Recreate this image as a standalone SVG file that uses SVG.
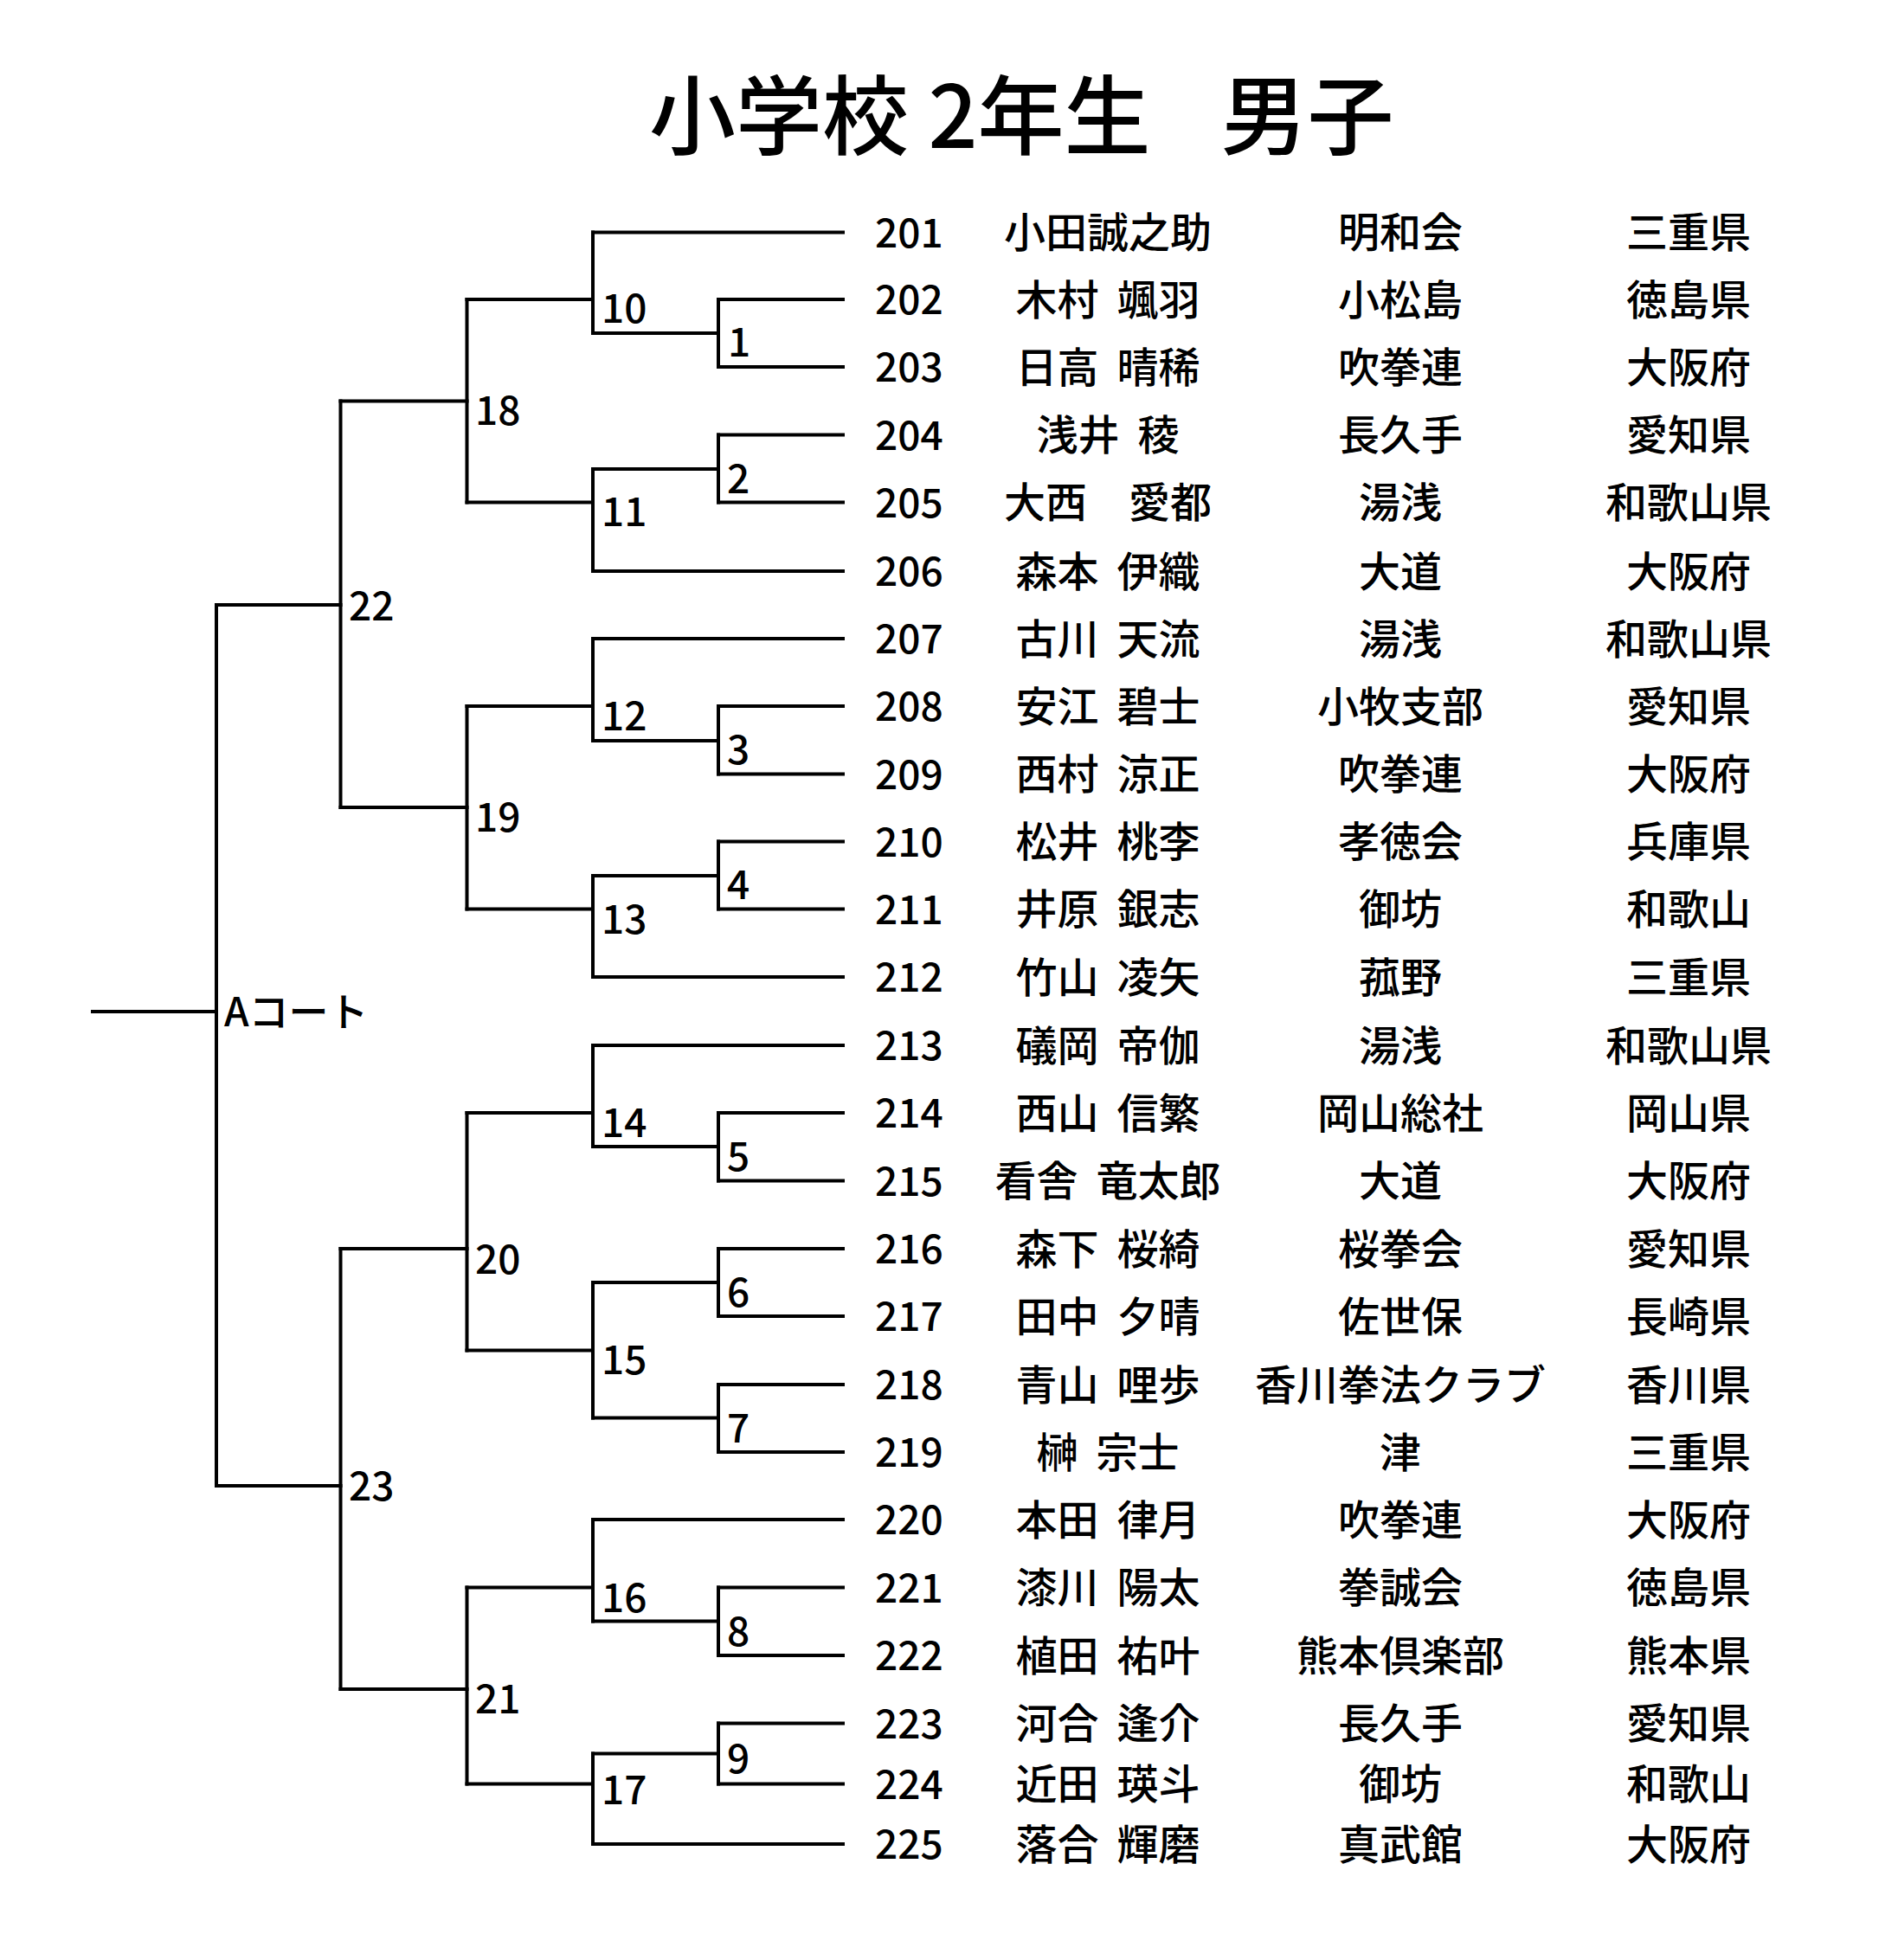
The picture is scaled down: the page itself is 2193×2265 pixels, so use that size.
<svg xmlns="http://www.w3.org/2000/svg" width="2193" height="2265" viewBox="0 0 2193 2265">
<style>
.ln{stroke:#000;stroke-width:4;stroke-linecap:square;fill:none}
.t{font-family:"Noto Sans CJK JP","Noto Sans CJK SC",sans-serif;font-size:46px;font-weight:500;fill:#000}
.j{font-size:48px}
.c{text-anchor:middle}
.nm{word-spacing:10px}
.ttl{font-family:"Noto Sans CJK JP","Noto Sans CJK SC",sans-serif;font-size:100px;font-weight:500;fill:#000}
</style>
<rect width="2193" height="2265" fill="#fff"/>
<text class="ttl" x="750" y="171" xml:space="preserve">小学校 2年生　<tspan dx="-19">男子</tspan></text>

<g id="connectors" class="ln">
<!-- entry lines -->
<path d="M685 268.5H974M830 346H974M830 424H974M830 502.5H974M830 580.5H974M685 660H974M685 738H974M830 816H974M830 894.5H974M830 972.5H974M830 1050.5H974M685 1129H974M685 1208H974M830 1286H974M830 1364.5H974M830 1443H974M830 1521H974M830 1600H974M830 1678H974M685 1756H974M830 1834.5H974M830 1913H974M830 1991.5H974M830 2061.5H974M685 2131H974"/>
<!-- match connectors -->
<path d="M685 385H830M685 542H830M539.5 346H685M539.5 580.5H685M393.5 463.5H539.5M685 856H830M685 1012H830M539.5 816H685M539.5 1050.5H685M393.5 933H539.5M250 699H393.5M685 1325H830M539.5 1286H685M685 1482H830M685 1638.5H830M539.5 1560.5H685M393.5 1443H539.5M685 1873.5H830M539.5 1834.5H685M685 2026.5H830M539.5 2061.5H685M393.5 1952H539.5M250 1717H393.5M107 1169H250"/>
</g>

<g id="m1"><path class="ln" d="M830 346V424"/><text class="t" x="841" y="412">1</text></g>
<g id="m2"><path class="ln" d="M830 502.5V580.5"/><text class="t" x="840" y="570">2</text></g>
<g id="m3"><path class="ln" d="M830 816V894.5"/><text class="t" x="840" y="882.5">3</text></g>
<g id="m4"><path class="ln" d="M830 972.5V1050.5"/><text class="t" x="840" y="1039">4</text></g>
<g id="m5"><path class="ln" d="M830 1286V1364.5"/><text class="t" x="840" y="1353">5</text></g>
<g id="m6"><path class="ln" d="M830 1443V1521"/><text class="t" x="840" y="1509.5">6</text></g>
<g id="m7"><path class="ln" d="M830 1600V1678"/><text class="t" x="840" y="1666.5">7</text></g>
<g id="m8"><path class="ln" d="M830 1834.5V1913"/><text class="t" x="840" y="1901.5">8</text></g>
<g id="m9"><path class="ln" d="M830 1991.5V2061.5"/><text class="t" x="840" y="2049">9</text></g>
<g id="m10"><path class="ln" d="M685 268.5V385"/><text class="t" x="695" y="373">10</text></g>
<g id="m11"><path class="ln" d="M685 542V660"/><text class="t" x="695" y="608">11</text></g>
<g id="m12"><path class="ln" d="M685 738V856"/><text class="t" x="695" y="843.5">12</text></g>
<g id="m13"><path class="ln" d="M685 1012V1129"/><text class="t" x="695" y="1078.5">13</text></g>
<g id="m14"><path class="ln" d="M685 1208V1325"/><text class="t" x="695" y="1314">14</text></g>
<g id="m15"><path class="ln" d="M685 1482V1638.5"/><text class="t" x="695" y="1587.5">15</text></g>
<g id="m16"><path class="ln" d="M685 1756V1873.5"/><text class="t" x="695" y="1862.5">16</text></g>
<g id="m17"><path class="ln" d="M685 2026.5V2131"/><text class="t" x="695" y="2085">17</text></g>
<g id="m18"><path class="ln" d="M539.5 346V580.5"/><text class="t" x="549" y="491">18</text></g>
<g id="m19"><path class="ln" d="M539.5 816V1050.5"/><text class="t" x="549" y="960.5">19</text></g>
<g id="m20"><path class="ln" d="M539.5 1286V1560.5"/><text class="t" x="549" y="1471.5">20</text></g>
<g id="m21"><path class="ln" d="M539.5 1834.5V2061.5"/><text class="t" x="549" y="1979.5">21</text></g>
<g id="m22"><path class="ln" d="M393.5 463.5V933"/><text class="t" x="403" y="716.5">22</text></g>
<g id="m23"><path class="ln" d="M393.5 1443V1952"/><text class="t" x="403" y="1734">23</text></g>
<g id="final"><path class="ln" d="M250 699V1717"/><text class="t" x="259" y="1186">Aコート</text></g>

<g id="e201"><text class="t" x="1011" y="285.5">201</text><text class="t j c nm" x="1280" y="286">小田誠之助</text><text class="t j c" x="1618" y="286">明和会</text><text class="t j c" x="1951" y="286">三重県</text></g>
<g id="e202"><text class="t" x="1011" y="363">202</text><text class="t j c nm" x="1280" y="363.5">木村 颯羽</text><text class="t j c" x="1618" y="363.5">小松島</text><text class="t j c" x="1951" y="363.5">徳島県</text></g>
<g id="e203"><text class="t" x="1011" y="441">203</text><text class="t j c nm" x="1280" y="441.5">日高 晴稀</text><text class="t j c" x="1618" y="441.5">吹拳連</text><text class="t j c" x="1951" y="441.5">大阪府</text></g>
<g id="e204"><text class="t" x="1011" y="519.5">204</text><text class="t j c nm" x="1280" y="520">浅井 稜</text><text class="t j c" x="1618" y="520">長久手</text><text class="t j c" x="1951" y="520">愛知県</text></g>
<g id="e205"><text class="t" x="1011" y="597.5">205</text><text class="t j c nm" x="1280" y="598">大西　愛都</text><text class="t j c" x="1618" y="598">湯浅</text><text class="t j c" x="1951" y="598">和歌山県</text></g>
<g id="e206"><text class="t" x="1011" y="677">206</text><text class="t j c nm" x="1280" y="677.5">森本 伊織</text><text class="t j c" x="1618" y="677.5">大道</text><text class="t j c" x="1951" y="677.5">大阪府</text></g>
<g id="e207"><text class="t" x="1011" y="755">207</text><text class="t j c nm" x="1280" y="755.5">古川 天流</text><text class="t j c" x="1618" y="755.5">湯浅</text><text class="t j c" x="1951" y="755.5">和歌山県</text></g>
<g id="e208"><text class="t" x="1011" y="833">208</text><text class="t j c nm" x="1280" y="833.5">安江 碧士</text><text class="t j c" x="1618" y="833.5">小牧支部</text><text class="t j c" x="1951" y="833.5">愛知県</text></g>
<g id="e209"><text class="t" x="1011" y="911.5">209</text><text class="t j c nm" x="1280" y="912">西村 涼正</text><text class="t j c" x="1618" y="912">吹拳連</text><text class="t j c" x="1951" y="912">大阪府</text></g>
<g id="e210"><text class="t" x="1011" y="989.5">210</text><text class="t j c nm" x="1280" y="990">松井 桃李</text><text class="t j c" x="1618" y="990">孝徳会</text><text class="t j c" x="1951" y="990">兵庫県</text></g>
<g id="e211"><text class="t" x="1011" y="1067.5">211</text><text class="t j c nm" x="1280" y="1068">井原 銀志</text><text class="t j c" x="1618" y="1068">御坊</text><text class="t j c" x="1951" y="1068">和歌山</text></g>
<g id="e212"><text class="t" x="1011" y="1146">212</text><text class="t j c nm" x="1280" y="1146.5">竹山 凌矢</text><text class="t j c" x="1618" y="1146.5">菰野</text><text class="t j c" x="1951" y="1146.5">三重県</text></g>
<g id="e213"><text class="t" x="1011" y="1225">213</text><text class="t j c nm" x="1280" y="1225.5">礒岡 帝伽</text><text class="t j c" x="1618" y="1225.5">湯浅</text><text class="t j c" x="1951" y="1225.5">和歌山県</text></g>
<g id="e214"><text class="t" x="1011" y="1303">214</text><text class="t j c nm" x="1280" y="1303.5">西山 信繁</text><text class="t j c" x="1618" y="1303.5">岡山総社</text><text class="t j c" x="1951" y="1303.5">岡山県</text></g>
<g id="e215"><text class="t" x="1011" y="1381.5">215</text><text class="t j c nm" x="1280" y="1382">看舎 竜太郎</text><text class="t j c" x="1618" y="1382">大道</text><text class="t j c" x="1951" y="1382">大阪府</text></g>
<g id="e216"><text class="t" x="1011" y="1460">216</text><text class="t j c nm" x="1280" y="1460.5">森下 桜綺</text><text class="t j c" x="1618" y="1460.5">桜拳会</text><text class="t j c" x="1951" y="1460.5">愛知県</text></g>
<g id="e217"><text class="t" x="1011" y="1538">217</text><text class="t j c nm" x="1280" y="1538.5">田中 夕晴</text><text class="t j c" x="1618" y="1538.5">佐世保</text><text class="t j c" x="1951" y="1538.5">長崎県</text></g>
<g id="e218"><text class="t" x="1011" y="1617">218</text><text class="t j c nm" x="1280" y="1617.5">青山 哩歩</text><text class="t j c" x="1618" y="1617.5">香川拳法クラブ</text><text class="t j c" x="1951" y="1617.5">香川県</text></g>
<g id="e219"><text class="t" x="1011" y="1695">219</text><text class="t j c nm" x="1280" y="1695.5">榊 宗士</text><text class="t j c" x="1618" y="1695.5">津</text><text class="t j c" x="1951" y="1695.5">三重県</text></g>
<g id="e220"><text class="t" x="1011" y="1773">220</text><text class="t j c nm" x="1280" y="1773.5">本田 律月</text><text class="t j c" x="1618" y="1773.5">吹拳連</text><text class="t j c" x="1951" y="1773.5">大阪府</text></g>
<g id="e221"><text class="t" x="1011" y="1851.5">221</text><text class="t j c nm" x="1280" y="1852">漆川 陽太</text><text class="t j c" x="1618" y="1852">拳誠会</text><text class="t j c" x="1951" y="1852">徳島県</text></g>
<g id="e222"><text class="t" x="1011" y="1930">222</text><text class="t j c nm" x="1280" y="1930.5">植田 祐叶</text><text class="t j c" x="1618" y="1930.5">熊本倶楽部</text><text class="t j c" x="1951" y="1930.5">熊本県</text></g>
<g id="e223"><text class="t" x="1011" y="2008.5">223</text><text class="t j c nm" x="1280" y="2009">河合 逢介</text><text class="t j c" x="1618" y="2009">長久手</text><text class="t j c" x="1951" y="2009">愛知県</text></g>
<g id="e224"><text class="t" x="1011" y="2078.5">224</text><text class="t j c nm" x="1280" y="2079">近田 瑛斗</text><text class="t j c" x="1618" y="2079">御坊</text><text class="t j c" x="1951" y="2079">和歌山</text></g>
<g id="e225"><text class="t" x="1011" y="2148">225</text><text class="t j c nm" x="1280" y="2148.5">落合 輝磨</text><text class="t j c" x="1618" y="2148.5">真武館</text><text class="t j c" x="1951" y="2148.5">大阪府</text></g>
</svg>
